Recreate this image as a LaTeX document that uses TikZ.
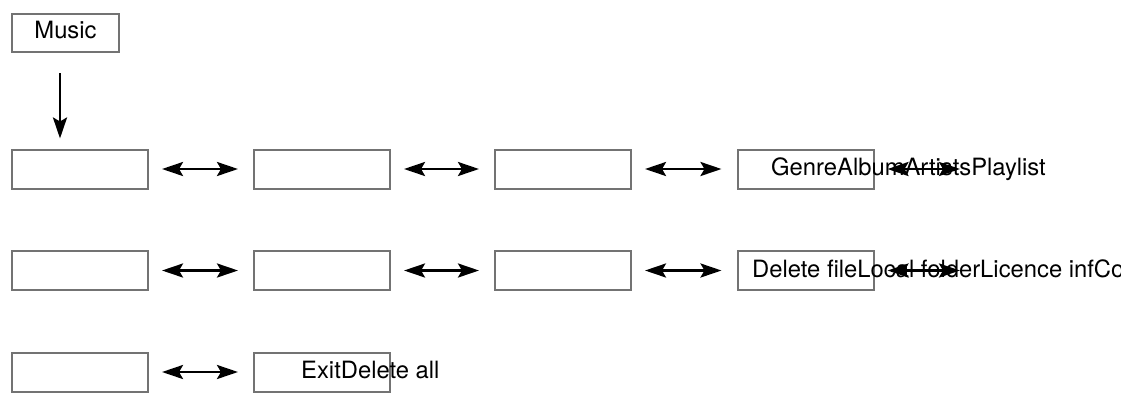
\documentclass[tikz,border=0pt]{standalone}
\usepackage{fontspec}
\setmainfont{TeX Gyre Heros}
\usetikzlibrary{arrows.meta}
\begin{document}
\begin{tikzpicture}[x=1bp,y=-1bp,
  box/.style={draw=black!55,line width=2bp,rectangle,inner sep=0pt,minimum width=136bp,minimum height=39bp},
  lbl/.style={inner sep=0pt,anchor=base west,font=\fontsize{23.8bp}{28bp}\selectfont},
  arr/.style={line width=2.8bp,-{Stealth[length=21bp,width=14bp,inset=4bp]}},
  darr/.style={line width=2.8bp,{Stealth[length=21bp,width=14bp,inset=4bp]}-{Stealth[length=21bp,width=14bp,inset=4bp]},shorten <=13bp,shorten >=15bp}]
\useasboundingbox (0,0) rectangle (1121,401);
% Music
\node[box,minimum width=107bp,minimum height=38bp,text depth=7bp,font=\fontsize{23.8bp}{28bp}\selectfont] (music) at (65.5,33) {Music};
% row 1
\node[box] (a1) at (80,169) {};
\node[box] (a2) at (322,169) {};
\node[box] (a3) at (563,169) {};
\node[box] (a4) at (805.5,169) {};
\coordinate (a5) at (975,169);
% row 2
\node[box] (b1) at (80,270.5) {};
\node[box] (b2) at (322,270.5) {};
\node[box] (b3) at (563,270.5) {};
\node[box] (b4) at (805.5,270.5) {};
\coordinate (b5) at (975,270.5);
% row 3
\node[box] (c1) at (80,372) {};
\node[box] (c2) at (322,372) {};
% arrows
\draw[arr,shorten <=20bp,shorten >=10bp] ([xshift=-5.5bp]music.south) -- ([xshift=-5.5bp]music.south |- a1.north);
\draw[darr] (a1.east) -- (a2.west);
\draw[darr] (a2.east) -- (a3.west);
\draw[darr] (a3.east) -- (a4.west);
\draw[darr] (a4.east) -- (a5);
\draw[darr] (b1.east) -- (b2.west);
\draw[darr] (b2.east) -- (b3.west);
\draw[darr] (b3.east) -- (b4.west);
\draw[darr] (b4.east) -- (b5);
\draw[darr] (c1.east) -- (c2.west);
% overlapping labels
\node[lbl] (t1) at (771,175) {GenreAlbumArtistsPlaylist};
\node[lbl] (t2) at (752,277) {Delete fileLocal folderLicence infCo};
\node[lbl] (t3) at (301,378) {ExitDelete all};
\end{tikzpicture}
\end{document}
